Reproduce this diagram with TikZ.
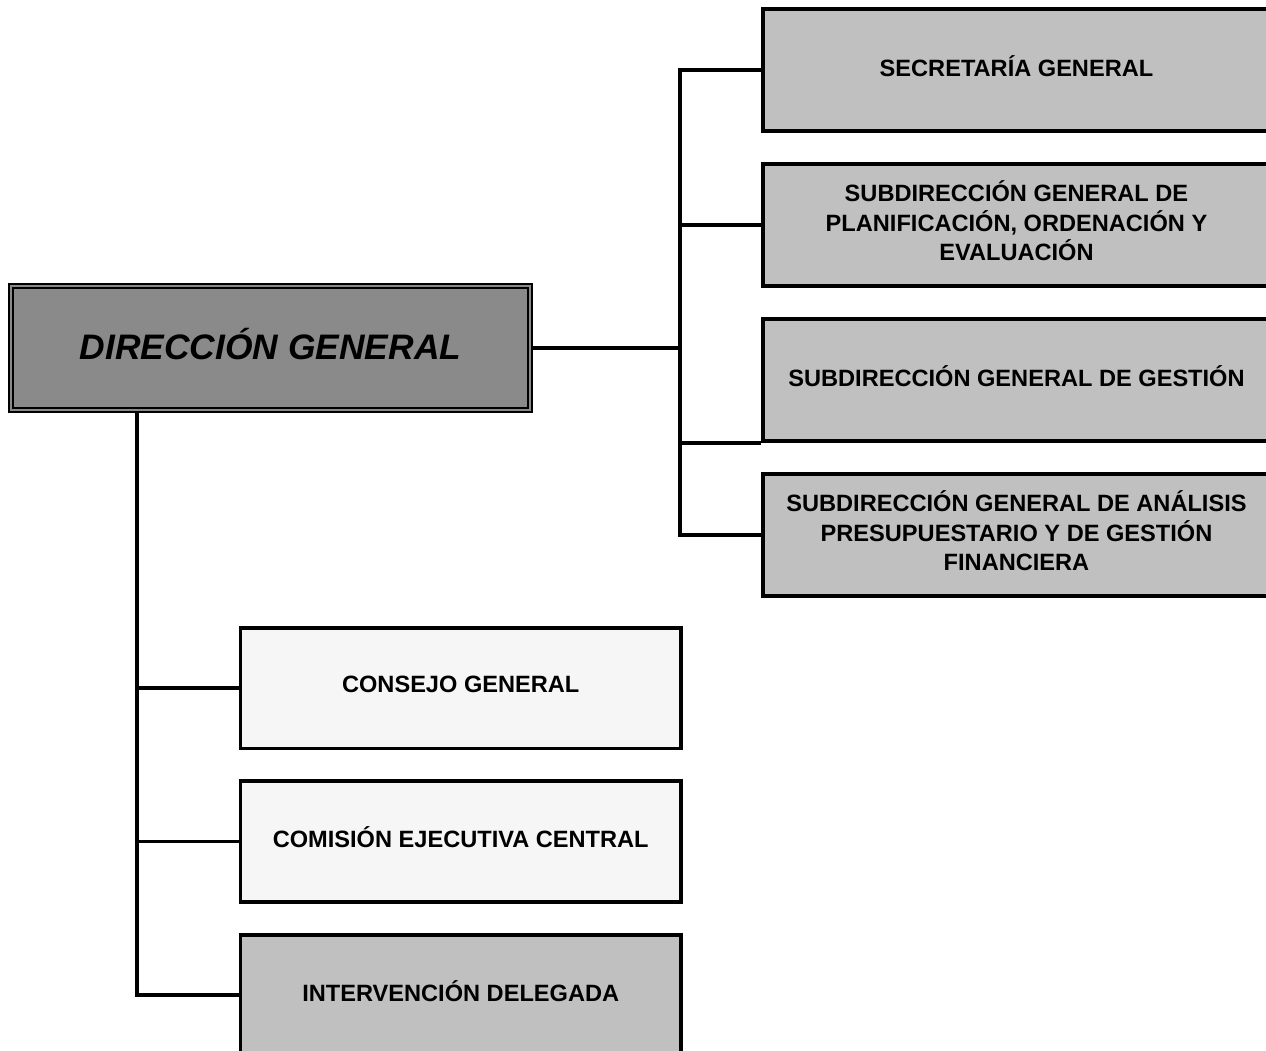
\documentclass[tikz,border=0pt]{standalone}
\usepackage{fontspec}
\setmainfont{Liberation Sans}
\usepackage{xcolor}
\usepackage{tikz}
\usetikzlibrary{positioning}

\definecolor{unitgray}{HTML}{C0C0C0}
\definecolor{dirgray}{HTML}{8A8A8A}
\definecolor{boardwhite}{HTML}{F6F6F6}

\begin{document}
\begin{tikzpicture}[
    x=0.5pt, y=-0.5pt,
    node distance=77.5pt,
    unit/.style={rectangle, draw, line width=1.9pt, fill=unitgray, inner sep=0pt, text depth=4pt, minimum width=253.5pt, minimum height=61.25pt, align=center, font=\bfseries\fontsize{11.8}{14.75}\selectfont},
    board/.style={unit, fill=boardwhite, minimum width=220.25pt, minimum height=60.4pt},
    head/.style={rectangle, draw, line width=1pt, double=dirgray, double distance=0.8pt, fill=dirgray, text depth=4pt, minimum width=259.7pt, minimum height=62.2pt, font=\bfseries\itshape\fontsize{17.7}{21}\selectfont},
    line/.style={draw, line width=1.9pt}
]
\useasboundingbox (0,0) rectangle (1266,1051);
\clip (0,0) rectangle (1266,1051);

\node [head] (dg) at (270.5,348) {DIRECCIÓN GENERAL};

\node [unit] (sg) at (1016.5,70) {SECRETARÍA GENERAL};
\node [unit, below of=sg] (sp) {SUBDIRECCIÓN GENERAL DE\\PLANIFICACIÓN, ORDENACIÓN Y\\EVALUACIÓN};
\node [unit, below of=sp] (sgg) {SUBDIRECCIÓN GENERAL DE GESTIÓN};
\node [unit, below of=sgg] (sga) {SUBDIRECCIÓN GENERAL DE ANÁLISIS\\PRESUPUESTARIO Y DE GESTIÓN\\FINANCIERA};

\node [board] (cg) at (460.75,688) {CONSEJO GENERAL};
\node [board, below of=cg, node distance=76.75pt] (ce) {COMISIÓN EJECUTIVA CENTRAL};
\node [unit, minimum width=220.25pt, minimum height=60.4pt, below of=ce, node distance=76.75pt] (iv) {INTERVENCIÓN DELEGADA};

\coordinate (rtrunk) at (680,348);
\coordinate (ltrunk) at (137,413);

\path [line] (dg.east) -- (rtrunk);
\path [line] (sg.west) -| (rtrunk);
\path [line] (sp.west) -| (rtrunk);
\path [line] (sgg.south west) -| (rtrunk);
\path [line] (sga.west) -| (rtrunk);

\path [line] (cg.west) -| (ltrunk);
\path [line] (ce.west) -| (ltrunk);
\path [line] (iv.west) -| (ltrunk);
\end{tikzpicture}
\end{document}
